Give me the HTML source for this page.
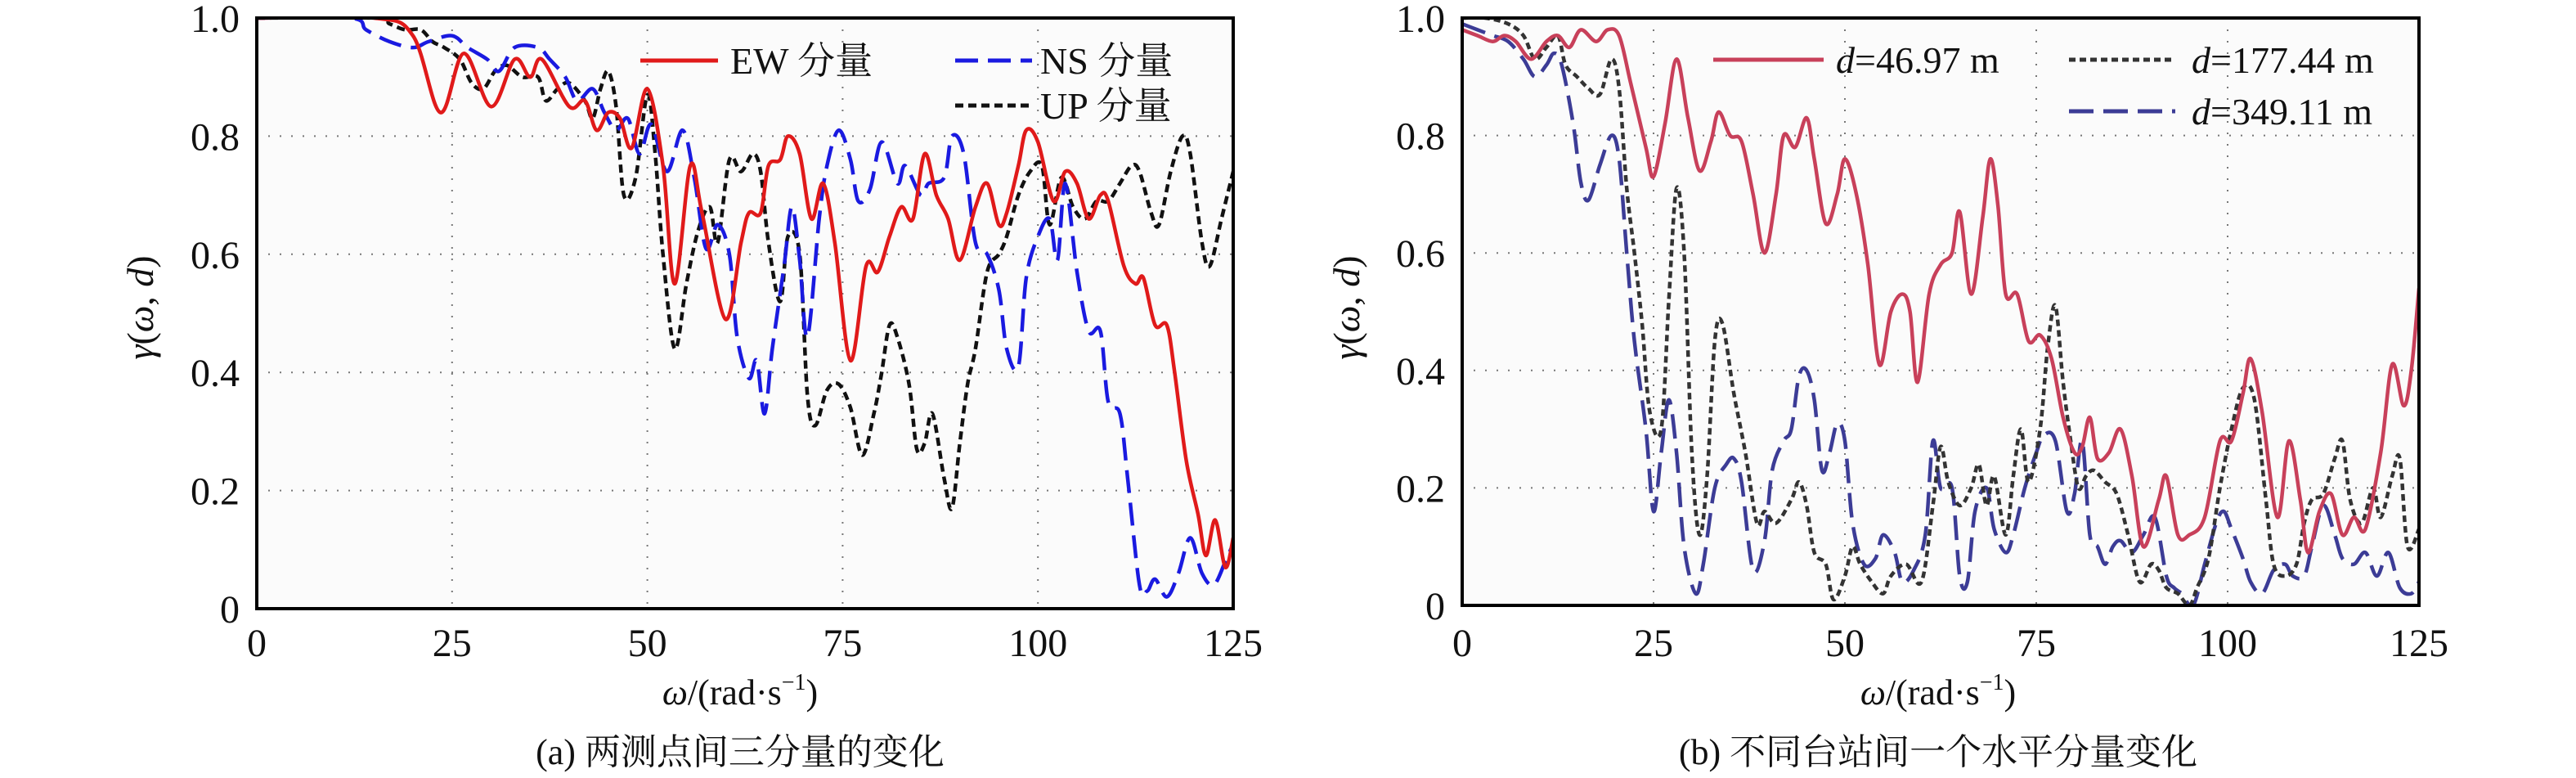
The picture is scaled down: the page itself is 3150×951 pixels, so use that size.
<!DOCTYPE html>
<html><head><meta charset="utf-8"><style>
html,body{margin:0;padding:0;background:#fff;}
svg{display:block;font-family:"Liberation Serif","Noto Serif CJK SC","Noto Sans CJK SC",serif;}
</style></head><body>
<svg id="c" width="3150" height="951" viewBox="0 0 3150 951" xmlns="http://www.w3.org/2000/svg"></svg>
<script>
const xTicks=[0,25,50,75,100,125];
const yTicks=[0,0.2,0.4,0.6,0.8,1.0];
const yTickLabels=["0","0.2","0.4","0.6","0.8","1.0"];
const ewX=[0,15,20,23.5,26.5,30,33,35,36.5,40,42,43.5,45,46.5,48,50,52,53.5,55.5,57,60,62,63,64.5,65.5,67,68,69.5,71,72.5,74,76,78,79.5,81,82.5,84,85.5,87,88.5,90,92,93.5,95,96,97.5,98.5,100,102,103.5,105,106.5,108,109,111,112.5,113.5,115,116.5,117.5,119,120.5,121.5,122.7,124,125];
const ewY=[1,1,0.97,0.84,0.94,0.85,0.93,0.9,0.93,0.85,0.86,0.81,0.84,0.83,0.78,0.88,0.75,0.55,0.75,0.67,0.49,0.62,0.67,0.67,0.75,0.76,0.8,0.77,0.66,0.72,0.62,0.42,0.58,0.57,0.63,0.68,0.66,0.77,0.7,0.66,0.59,0.68,0.72,0.65,0.67,0.75,0.81,0.79,0.69,0.74,0.72,0.66,0.7,0.69,0.58,0.55,0.56,0.48,0.48,0.4,0.25,0.16,0.09,0.15,0.07,0.12];
const nsX=[0,12,14,17,20,22,25,27,29.5,31,33,36,37.5,39.5,41,43,44.5,46,47.5,49,50.5,52.5,54.5,56,57.5,59,60.5,61.5,63,64,65,66,67.5,68.5,69.5,70.5,72,73,74.5,76,77,78.5,80,82,83,85,86,88,89,90.5,92,93.5,95,96,97.5,98.5,100,101.5,102.5,103.5,105,106.5,108,109,110.5,111.5,113,114,115,116.5,118,119.5,121,122.5,124,125];
const nsY=[1,1,0.98,0.96,0.95,0.96,0.97,0.95,0.93,0.91,0.95,0.95,0.93,0.9,0.86,0.88,0.84,0.81,0.83,0.77,0.82,0.74,0.81,0.73,0.61,0.65,0.6,0.46,0.39,0.42,0.33,0.44,0.58,0.68,0.59,0.46,0.66,0.75,0.81,0.76,0.69,0.71,0.79,0.72,0.75,0.7,0.72,0.73,0.8,0.77,0.62,0.6,0.54,0.44,0.41,0.56,0.63,0.66,0.59,0.72,0.57,0.47,0.47,0.35,0.33,0.22,0.04,0.03,0.05,0.02,0.06,0.12,0.06,0.04,0.08,0.11];
const upX=[0,15,17,19,21,22.5,24,26,27.5,29,30.5,32,34,36,37,38.5,40,42,43,44,45,46,47,48.5,50,51,52,53.5,55,56.5,58,59,60.5,62,63.5,64.5,65.5,67,68,69.5,70.5,71.5,73,74.5,76,77.5,79,80,81,82,83.5,84.5,85.5,86.5,88,89,90,91,92,93.5,95,96,97.5,99,100.5,101.5,103,104.5,106,107.5,109,110.5,112,113,114.5,115.5,117,118.5,119.5,121,122,123.5,125];
const upY=[1,1,0.99,0.98,0.98,0.96,0.95,0.93,0.89,0.88,0.91,0.92,0.9,0.9,0.86,0.88,0.89,0.86,0.83,0.88,0.91,0.85,0.7,0.73,0.87,0.77,0.6,0.44,0.55,0.64,0.68,0.62,0.76,0.74,0.77,0.74,0.62,0.52,0.63,0.6,0.36,0.31,0.37,0.38,0.34,0.26,0.33,0.4,0.48,0.46,0.38,0.27,0.28,0.33,0.22,0.17,0.28,0.38,0.44,0.57,0.6,0.63,0.7,0.74,0.75,0.65,0.73,0.68,0.66,0.69,0.69,0.72,0.75,0.74,0.67,0.65,0.74,0.8,0.77,0.62,0.58,0.66,0.74];
const d1X=[0,2,4,5.5,7,9,11,12.5,14,15.5,17.5,19,20.5,22,24,25,26.5,28,29.5,31,32.5,33.5,35,36.5,38,39.5,41,42,43.5,45,46,47.5,49,50,51.5,53,54.5,56,57.5,58.5,59.5,61,62.5,64,65,66.5,68,69,70,71,72.5,74,75.5,77,78.5,80,81,82,83,84.5,86,87.5,89,91,92,93.5,95,97,99,100.5,102,103,104.5,106.5,108,109.5,110.5,112,113.5,115,116.5,118,120,121.5,123,124,125];
const d1Y=[0.98,0.97,0.96,0.97,0.96,0.93,0.96,0.97,0.95,0.98,0.96,0.98,0.97,0.89,0.78,0.73,0.82,0.93,0.83,0.74,0.79,0.84,0.8,0.79,0.7,0.6,0.7,0.8,0.78,0.83,0.76,0.65,0.7,0.76,0.7,0.58,0.41,0.5,0.53,0.5,0.38,0.53,0.58,0.6,0.67,0.53,0.66,0.76,0.68,0.53,0.53,0.45,0.46,0.42,0.32,0.26,0.27,0.32,0.25,0.26,0.3,0.22,0.1,0.18,0.22,0.12,0.12,0.15,0.28,0.28,0.36,0.42,0.33,0.15,0.28,0.18,0.09,0.16,0.19,0.12,0.15,0.13,0.26,0.41,0.34,0.4,0.54];
const d2X=[0,3,6,8,9.5,11,12.5,13.5,15,16.5,18,19.5,20.5,21.5,22.5,23.5,24.5,26,27,28,29,30,31,32,33,34,35.5,37,38.5,39.5,41,43,44,45,46,47.5,48.5,50,51,52,53.5,55,56,58,60,61.5,62.5,63.5,65,66.5,67.5,68.5,69.5,71,72,73,74,75.5,76.5,77.5,78.5,79.5,80.5,81.5,82.5,84,85.5,87,88.5,90,91,92,93.5,95,96,97.5,99,100.5,102,103.5,105,106,107.5,109,110,111,112.5,114,115,116,117.5,119,120,121.5,122.5,123.5,125];
const d2Y=[1,1,0.99,0.97,0.93,0.95,0.97,0.92,0.9,0.88,0.87,0.93,0.88,0.71,0.6,0.48,0.33,0.3,0.52,0.71,0.6,0.26,0.12,0.22,0.45,0.48,0.36,0.26,0.14,0.16,0.14,0.18,0.21,0.17,0.09,0.07,0.01,0.05,0.1,0.07,0.04,0.02,0.05,0.07,0.04,0.17,0.27,0.21,0.17,0.2,0.24,0.17,0.22,0.12,0.22,0.3,0.21,0.3,0.44,0.51,0.38,0.28,0.2,0.22,0.23,0.21,0.19,0.12,0.04,0.07,0.06,0.03,0.02,0,0.03,0.08,0.2,0.3,0.37,0.35,0.18,0.07,0.05,0.07,0.14,0.18,0.19,0.25,0.28,0.18,0.14,0.2,0.15,0.22,0.25,0.1,0.13];
const d3X=[0,2,4,6,8,9.5,11,12,13,14.5,15.5,16.5,18,19.5,20.5,21.5,22.5,24,25,26,27,28,29,30.5,31.5,33,34.5,35.5,36.5,38,39.5,40.5,42,43,44,45,46,47,48,49,50,51,52.5,54,55,56.5,57.5,59,60.5,61.5,62.5,64,65,66,67,68.5,69.5,71,72,73.5,75,76,77.5,79,80,81,82,83,84,85,86,87.5,89,90.5,92,93,94,95.5,97,98.5,99.5,100.5,102,103,104.5,106,107.5,108.5,110,111,112.5,114,115,116.5,118,119.5,121,122.5,124,125];
const d3Y=[0.99,0.98,0.97,0.96,0.93,0.9,0.92,0.94,0.92,0.82,0.72,0.69,0.75,0.8,0.76,0.6,0.45,0.3,0.16,0.26,0.35,0.26,0.1,0.02,0.07,0.2,0.24,0.25,0.21,0.06,0.11,0.23,0.28,0.3,0.39,0.4,0.35,0.23,0.26,0.31,0.28,0.14,0.07,0.08,0.12,0.09,0.04,0.06,0.12,0.28,0.2,0.2,0.05,0.04,0.16,0.2,0.13,0.09,0.12,0.2,0.26,0.29,0.28,0.16,0.19,0.28,0.12,0.1,0.07,0.1,0.11,0.09,0.12,0.15,0.05,0.03,0.02,0,0.07,0.14,0.16,0.13,0.08,0.04,0.02,0.06,0.07,0.05,0.05,0.1,0.17,0.12,0.08,0.07,0.09,0.05,0.09,0.03,0.02,0.04];

const svg=document.getElementById('c');
const NS='http://www.w3.org/2000/svg';
function mk(tag,attrs,parent){const e=document.createElementNS(NS,tag);for(const k in attrs)e.setAttribute(k,attrs[k]);(parent||svg).appendChild(e);return e;}
function smooth(pts){
  let d='M'+pts[0][0].toFixed(1)+','+pts[0][1].toFixed(1);
  for(let i=0;i<pts.length-1;i++){
    const p0=pts[Math.max(0,i-1)],p1=pts[i],p2=pts[i+1],p3=pts[Math.min(pts.length-1,i+2)];
    const c1x=p1[0]+(p2[0]-p0[0])/6,c1y=p1[1]+(p2[1]-p0[1])/6;
    const c2x=p2[0]-(p3[0]-p1[0])/6,c2y=p2[1]-(p3[1]-p1[1])/6;
    d+=' C'+c1x.toFixed(1)+','+c1y.toFixed(1)+' '+c2x.toFixed(1)+','+c2y.toFixed(1)+' '+p2[0].toFixed(1)+','+p2[1].toFixed(1);
  }
  return d;
}

function panel(id,x0,x1,yTop,yBot,series,legend,caption,labelX,ylabX,ytickR){
  const g=mk('g',{});
  
  
  const sx=v=>x0+(v/125)*(x1-x0);
  const sy=v=>yBot-v*(yBot-yTop);
  const bg=mk('rect',{x:x0,y:yTop,width:x1-x0,height:yBot-yTop,fill:'#fbfbfb'},g);
  
  
  const clipId=id+'-clip';
  const cp0=mk('clipPath',{id:clipId},g);
  mk('rect',{x:x0,y:yTop,width:x1-x0,height:yBot-yTop},cp0);
  xTicks.forEach(t=>{
    if(t>0&&t<125){const l=mk('line',{x1:sx(t),x2:sx(t),y1:yTop,y2:yBot,stroke:'#777','stroke-width':2,'stroke-dasharray':'2,12'},g);
    
    }
    const tx=mk('text',{x:sx(t),y:802,'font-size':48,'text-anchor':'middle',fill:'#111'},g);
    
    
    tx.textContent=t;
  });
  yTicks.forEach((t,i)=>{
    if(t>0&&t<1){const l=mk('line',{x1:x0,x2:x1,y1:sy(t),y2:sy(t),stroke:'#777','stroke-width':2,'stroke-dasharray':'2,12'},g);
    
    }
    const tx=mk('text',{x:ytickR,y:sy(t)+17,'font-size':48,'text-anchor':'end',fill:'#111'},g);
    
    
    tx.textContent=yTickLabels[i];
  });
  series.forEach(s=>{
    const pts=s.xs.map((v,i)=>[sx(v),sy(s.ys[i])]);
    const p=mk('path',{d:smooth(pts),fill:'none',stroke:s.c,'stroke-width':4.5,'stroke-dasharray':s.dash||'none','stroke-linejoin':'round','clip-path':'url(#'+clipId+')'},g);
    
    
  });
  const fr=mk('rect',{x:x0,y:yTop,width:x1-x0,height:yBot-yTop,fill:'none',stroke:'#000','stroke-width':4},g);
  
  
  legend.forEach(L=>{
    const lg=mk('g',{},g);
    
    
    mk('line',{x1:L.x1,x2:L.x2,y1:L.y,y2:L.y,stroke:L.c,'stroke-width':5,'stroke-dasharray':L.dash||'none'},lg);
    const t=mk('text',{x:L.tx,y:L.y+16,'font-size':46,fill:'#111'},lg);
    t.innerHTML=L.html;
  });
  const xl=mk('text',{x:labelX,y:861,'font-size':44,'text-anchor':'middle',fill:'#111'},g);
  
  
  xl.innerHTML='<tspan font-style="italic">ω</tspan>/(rad·s<tspan font-size="28" dy="-18">−1</tspan><tspan dy="18">)</tspan>';
  const yl=mk('text',{x:ylabX,y:376,'font-size':46,'text-anchor':'middle',fill:'#111',transform:'rotate(-90 '+ylabX+' 376)'},g);
  
  
  yl.innerHTML='<tspan font-style="italic">γ</tspan>(<tspan font-style="italic">ω</tspan>, <tspan font-style="italic">d</tspan>)';
  const cp=mk('text',{x:labelX,y:934,'font-size':44,'text-anchor':'middle',fill:'#111'},g);
  
  
  cp.textContent=caption;
}

panel('panel-a',314,1508,22,744,[
  {name:'up-series',xs:upX,ys:upY,c:'#111',dash:'10,6'},
  {name:'ns-series',xs:nsX,ys:nsY,c:'#1a1ae0',dash:'28,12'},
  {name:'ew-series',xs:ewX,ys:ewY,c:'#e01a1a'}
],[
  {x1:783,x2:878,y:74,c:'#e01a1a',tx:893,html:'EW 分量'},
  {x1:1168,x2:1262,y:74,c:'#1a1ae0',dash:'28,12',tx:1272,html:'NS 分量'},
  {x1:1168,x2:1262,y:129,c:'#111',dash:'10,6',tx:1272,html:'UP 分量'}
],'(a) 两测点间三分量的变化',905,187,293);

panel('panel-b',1788,2958,22,740,[
  {name:'d349-series',xs:d3X,ys:d3Y,c:'#3c3c96',dash:'30,12'},
  {name:'d177-series',xs:d2X,ys:d2Y,c:'#333',dash:'8,5'},
  {name:'d47-series',xs:d1X,ys:d1Y,c:'#c8405a'}
],[
  {x1:2095,x2:2230,y:73,c:'#c8405a',tx:2245,html:'<tspan font-style="italic">d</tspan>=46.97 m'},
  {x1:2530,x2:2660,y:73,c:'#333',dash:'8,5',tx:2680,html:'<tspan font-style="italic">d</tspan>=177.44 m'},
  {x1:2530,x2:2660,y:136,c:'#3c3c96',dash:'30,12',tx:2680,html:'<tspan font-style="italic">d</tspan>=349.11 m'}
],'(b) 不同台站间一个水平分量变化',2370,1662,1767);
</script>
</body></html>
